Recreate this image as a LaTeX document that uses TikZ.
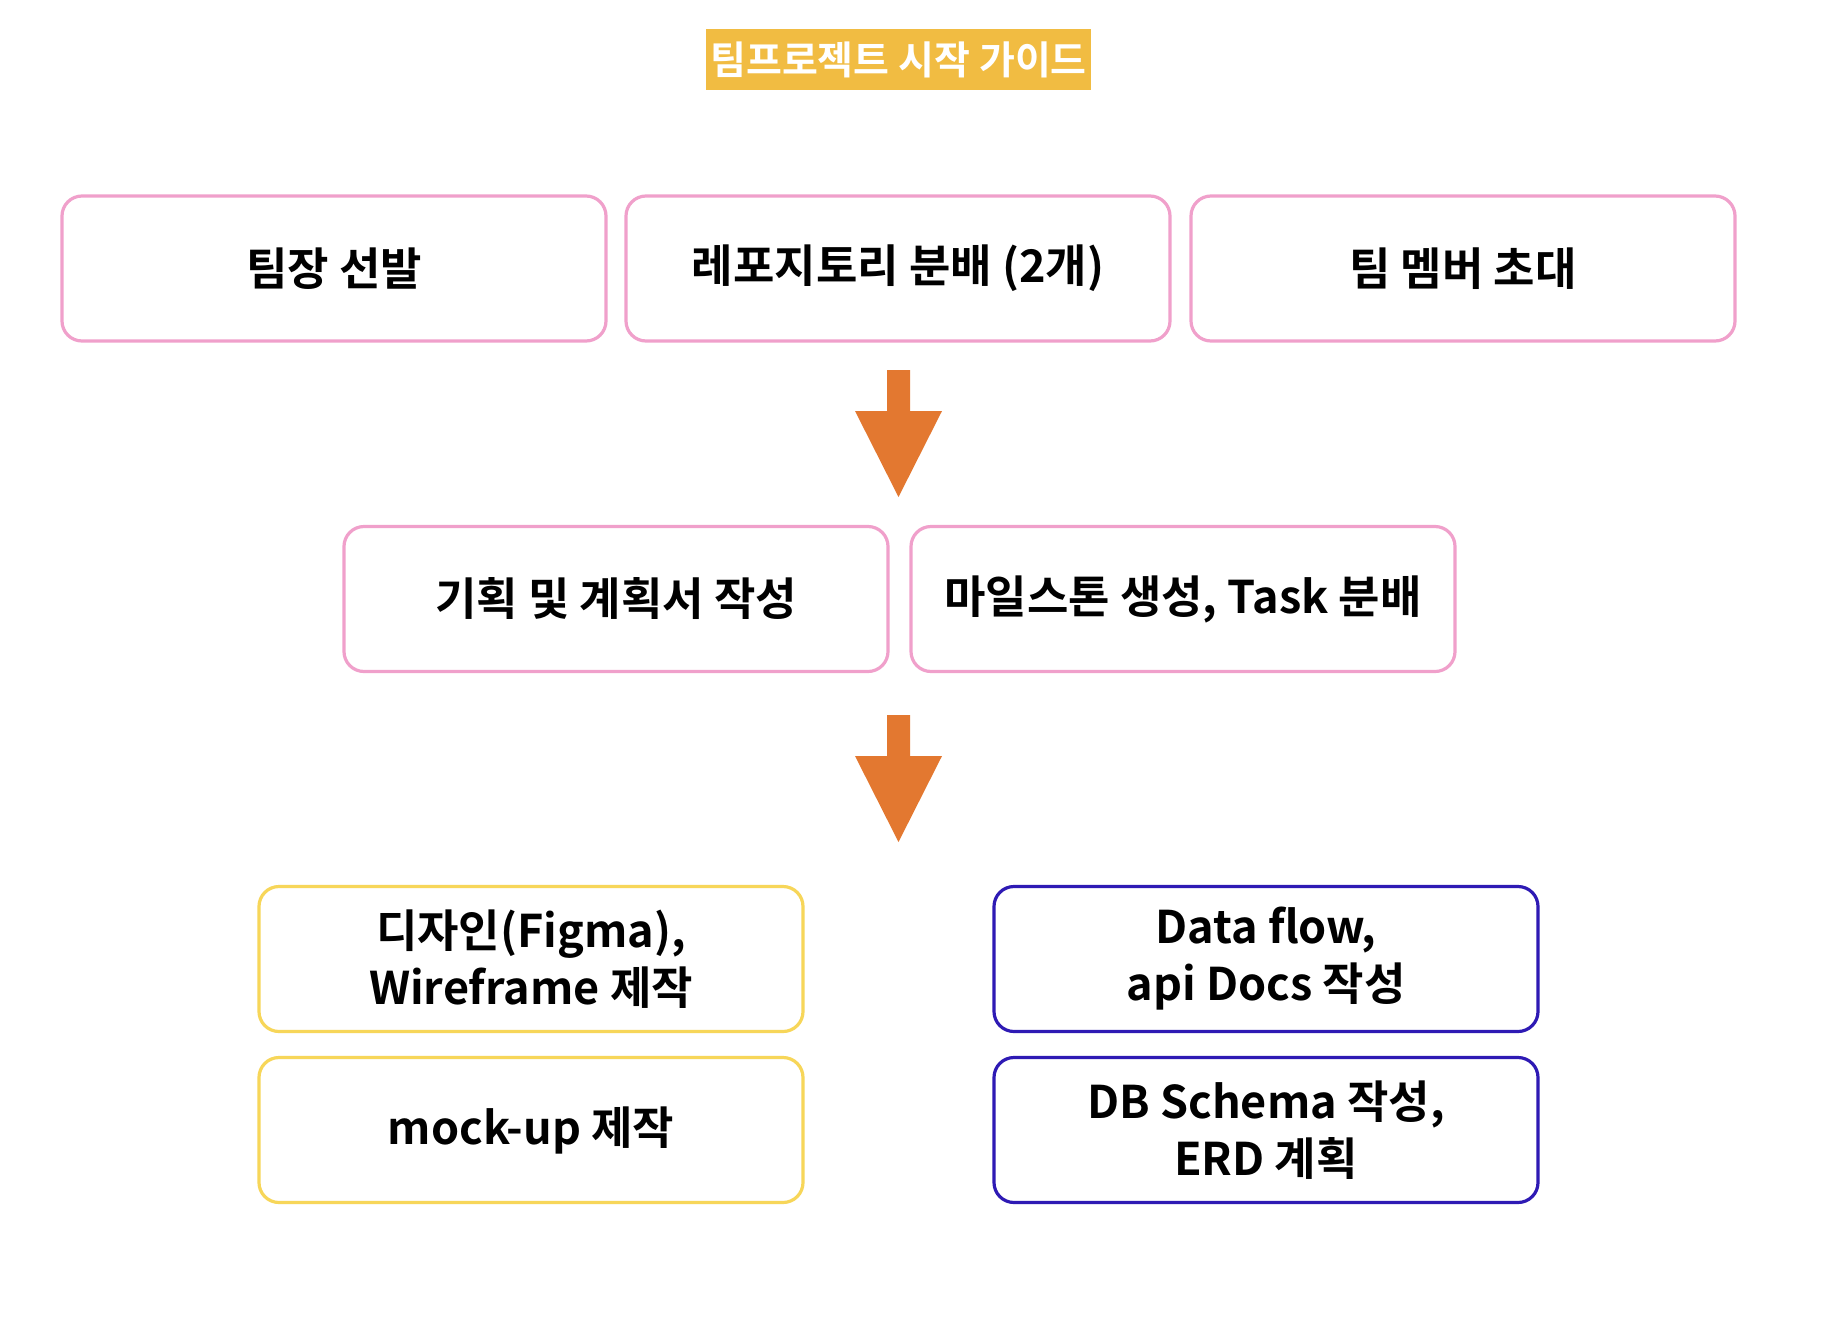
\documentclass[tikz,border=0pt]{standalone}
\usepackage{fontspec}
\setmainfont{Noto Sans CJK KR}[BoldFont={* Bold}]
\newfontfamily\krbold{Noto Sans CJK KR Bold}
\definecolor{pinkline}{HTML}{F0A0CB}
\definecolor{yellowline}{HTML}{F7D659}
\definecolor{blueline}{HTML}{2E1AB4}
\definecolor{arroworange}{HTML}{E37830}
\definecolor{titlefill}{HTML}{F1BC42}
\begin{document}
\begin{tikzpicture}[x=1pt,y=-1pt,
  box/.style={draw, line width=3.2pt, rounded corners=20pt, minimum width=544pt,
    minimum height=145pt, align=center, inner sep=0pt,
    font=\krbold\fontsize{45}{57}\selectfont, text=black},
  pinkbox/.style={box, draw=pinkline},
  yellowbox/.style={box, draw=yellowline},
  bluebox/.style={box, draw=blueline},
  titlebox/.style={fill=titlefill, minimum width=385pt, minimum height=61pt, inner sep=0pt,
    text=white, font=\krbold\fontsize{39}{42}\selectfont},
  blockarrow/.style={fill=arroworange, draw=none}
]
\useasboundingbox (0,0) rectangle (1826,1336);
\fill[white] (0,0) rectangle (1826,1336);

\node[titlebox] (title) at (898.5,59.5) {팀프로젝트 시작 가이드};

\node[pinkbox] (leader) at (334,268.5) {팀장 선발};
\node[pinkbox] (repo) at (898,268.5) {레포지토리 분배 (2개)};
\node[pinkbox] (invite) at (1463,268.5) {팀 멤버 초대};

\node[pinkbox] (plan) at (616,599) {기획 및 계획서 작성};
\node[pinkbox] (mile) at (1183,599) {마일스톤 생성, Task 분배};

\node[yellowbox] (design) at (531,959) {디자인(Figma),\\Wireframe 제작};
\node[yellowbox] (mock) at (531,1130) {mock-up 제작};
\node[bluebox] (data) at (1266,959) {Data flow,\\api Docs 작성};
\node[bluebox] (db) at (1266,1130) {DB Schema 작성,\\ERD 계획};

% block arrows
\fill[blockarrow] (887,370) -- (910,370) -- (910,411) -- (942,411) -- (898.5,497)
  -- (855,411) -- (887,411) -- cycle;
\fill[blockarrow] (887,715) -- (910,715) -- (910,756) -- (942,756) -- (898.5,842)
  -- (855,756) -- (887,756) -- cycle;
\end{tikzpicture}
\end{document}
